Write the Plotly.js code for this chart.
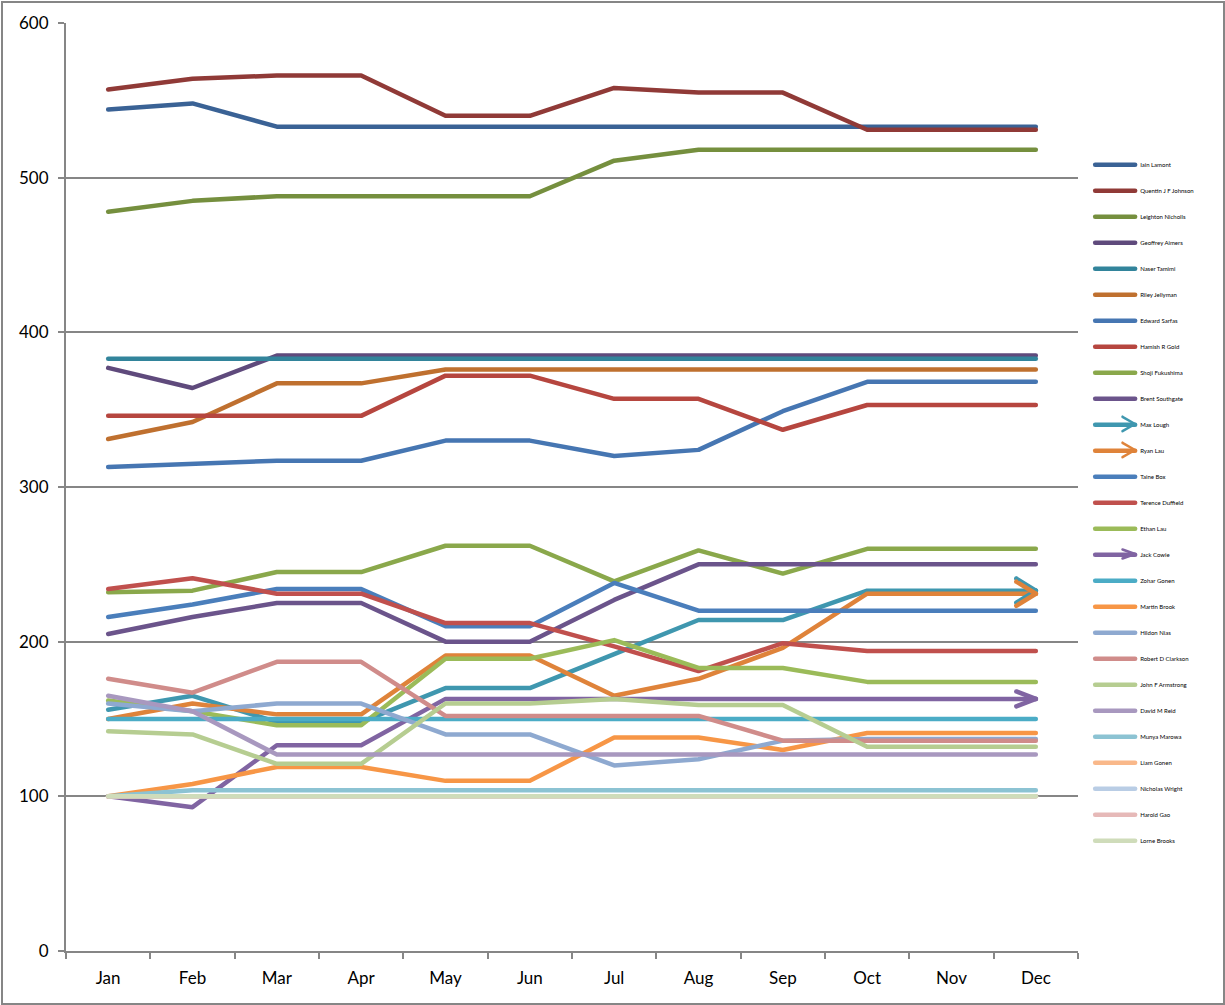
<!DOCTYPE html>
<html>
<head>
<meta charset="utf-8">
<script src="https://cdn.plot.ly/plotly-3.0.1.min.js"></script>
<style>
  html, body { margin: 0; padding: 0; background: #fff; }
  #wrap { position: relative; width: 1225px; height: 1005px; }
  #chart { width: 1225px; height: 1005px; }
  #frame { position: absolute; left: 1px; top: 1px; width: 1220px; height: 1000px; border: 2px solid #868686; pointer-events: none; }
  path.js-line { stroke-linecap: round !important; stroke-linejoin: round !important; }
  g.annotation path { stroke-linecap: round !important; }
</style>
</head>
<body>
<div id="wrap"><div id="chart"></div><div id="frame"></div></div>
<script>
const months = ["Jan","Feb","Mar","Apr","May","Jun","Jul","Aug","Sep","Oct","Nov","Dec"];
const yTicks = [0,100,200,300,400,500,600];

const iainLamont       = [544,548,533,533,533,533,533,533,533,533,533,533];
const quentinJohnson   = [557,564,566,566,540,540,558,555,555,531,531,531];
const leightonNicholls = [478,485,488,488,488,488,511,518,518,518,518,518];
const geoffreyAimers   = [377,364,385,385,385,385,385,385,385,385,385,385];
const naserTamimi      = [383,383,383,383,383,383,383,383,383,383,383,383];
const rileyJellyman    = [331,342,367,367,376,376,376,376,376,376,376,376];
const edwardSarfas     = [313,315,317,317,330,330,320,324,349,368,368,368];
const hamishGold       = [346,346,346,346,372,372,357,357,337,353,353,353];
const shojiFukushima   = [232,233,245,245,262,262,239,259,244,260,260,260];
const brentSouthgate   = [205,216,225,225,200,200,227,250,250,250,250,250];
const maxLough         = [156,165,148,148,170,170,192,214,214,233,233,233];
const ryanLau          = [150,160,153,153,191,191,165,176,196,231,231,231];
const taineBox         = [216,224,234,234,210,210,238,220,220,220,220,220];
const terenceDuffield  = [234,241,231,231,212,212,197,181,199,194,194,194];
const ethanLau         = [162,155,146,146,189,189,201,183,183,174,174,174];
const jackCowie        = [100,93,133,133,163,163,163,163,163,163,163,163];
const zoharGonen       = [150,150,150,150,150,150,150,150,150,150,150,150];
const martinBrook      = [100,108,119,119,110,110,138,138,130,141,141,141];
const hildonNias       = [160,155,160,160,140,140,120,124,136,137,137,137];
const robertClarkson   = [176,167,187,187,152,152,152,152,136,136,136,136];
const johnArmstrong    = [142,140,121,121,160,160,163,159,159,132,132,132];
const davidReid        = [165,155,127,127,127,127,127,127,127,127,127,127];
const munyaMarowa      = [100,104,104,104,104,104,104,104,104,104,104,104];
const liamGonen        = [100,100,100,100,100,100,100,100,100,100,100,100];
const nicholasWright   = [100,100,100,100,100,100,100,100,100,100,100,100];
const haroldGao        = [100,100,100,100,100,100,100,100,100,100,100,100];
const lorneBrooks      = [100,100,100,100,100,100,100,100,100,100,100,100];

const seriesNames = ["Iain Lamont","Quentin J F Johnson","Leighton Nicholls","Geoffrey Aimers","Naser Tamimi","Riley Jellyman","Edward Sarfas","Hamish R Gold","Shoji Fukushima","Brent Southgate","Max Lough","Ryan Lau","Taine Box","Terence Duffield","Ethan Lau","Jack Cowie","Zohar Gonen","Martin Brook","Hildon Nias","Robert D Clarkson","John F Armstrong","David M Reid","Munya Marowa","Liam Gonen","Nicholas Wright","Harold Gao","Lorne Brooks"];
const seriesValues = [iainLamont,quentinJohnson,leightonNicholls,geoffreyAimers,naserTamimi,rileyJellyman,edwardSarfas,hamishGold,shojiFukushima,brentSouthgate,maxLough,ryanLau,taineBox,terenceDuffield,ethanLau,jackCowie,zoharGonen,martinBrook,hildonNias,robertClarkson,johnArmstrong,davidReid,munyaMarowa,liamGonen,nicholasWright,haroldGao,lorneBrooks];
const seriesColors = ["#3A6295","#903A37","#758F3E","#5F4A7C","#32849B","#BF702F","#4676B2","#B6463F","#8AA84B","#6B548B","#3F97AF","#DF833A","#4A7EBB","#C0504D","#9BBB59","#8064A2","#4BACC6","#F79646","#8EA9D0","#D08C8A","#B6CD91","#A898BF","#8CC3D3","#F9B88A","#B9CDE5","#E6B9B8","#CFDCBA"];
// arrow-head styles: [arm length px, arm half-spread px] in plot and in legend
const arrowSeries = {"Max Lough": [21, 13, 14, 8], "Ryan Lau": [21, 13, 14, 8], "Jack Cowie": [21, 8, 14, 5]};

const traces = seriesNames.map((n, i) => ({
  type: "scatter", mode: "lines", name: n, legendgroup: n,
  x: months, y: seriesValues[i],
  line: { color: seriesColors[i], width: 4.5 },
  hoverinfo: "skip"
}));

// legend geometry (paper units) for the arrow glyphs in the legend
const plotW = 1225 - 66 - 147, plotH = 1005 - 23 - 54;
const legendTop = 164, legendStep = 26, legendTipX = 1135;

const annotations = [];
seriesNames.forEach((n, i) => {
  const a = arrowSeries[n];
  if (a === undefined) return;
  const v = seriesValues[i];
  [-1, 1].forEach(s => {
    annotations.push({
      x: months[months.length - 1], y: v[v.length - 1], xref: "x", yref: "y",
      ax: -a[0], ay: s * a[1], axref: "pixel", ayref: "pixel",
      text: "", showarrow: true, arrowhead: 0, standoff: 0, startstandoff: 0,
      arrowwidth: 4.5, arrowcolor: seriesColors[i]
    });
    annotations.push({
      x: (legendTipX - 66) / plotW, y: (951 - (legendTop + legendStep * i)) / plotH,
      xref: "paper", yref: "paper",
      ax: -a[2], ay: s * a[3], axref: "pixel", ayref: "pixel",
      text: "", showarrow: true, arrowhead: 0, standoff: 0, startstandoff: 0,
      arrowwidth: 2.5, arrowcolor: seriesColors[i]
    });
  });
});

const layout = {
  width: 1225, height: 1005,
  margin: { l: 66, r: 147, t: 23, b: 54 },
  paper_bgcolor: "#ffffff", plot_bgcolor: "#ffffff",
  font: { family: "Lato, 'Open Sans', sans-serif", color: "#000000", size: 17 },
  showlegend: true,
  legend: {
    x: 1.012, xanchor: "left", y: 0.863, yanchor: "top",
    font: { size: 6, family: "Lato, sans-serif", color: "#000" },
    traceorder: "grouped", tracegroupgap: 7, itemwidth: 40,
    bgcolor: "rgba(0,0,0,0)"
  },
  xaxis: {
    type: "category", categoryorder: "array", categoryarray: months,
    range: [-0.5, 11.5],
    showgrid: false, showline: true, linecolor: "#868686", linewidth: 2,
    ticks: "outside", tickson: "boundaries", ticklen: 6, tickwidth: 2, tickcolor: "#868686",
    ticklabelstandoff: 11,
    tickfont: { size: 17 }, zeroline: false, fixedrange: true
  },
  yaxis: {
    range: [0, 600], tickmode: "array", tickvals: yTicks, ticktext: yTicks.map(String),
    showgrid: true, gridcolor: "#868686", gridwidth: 2,
    showline: true, linecolor: "#868686", linewidth: 2,
    ticks: "outside", ticklen: 6, tickwidth: 2, tickcolor: "#868686",
    ticklabelstandoff: 6,
    tickfont: { size: 17 }, zeroline: false, fixedrange: true
  },
  annotations: annotations
};

Plotly.newPlot("chart", traces, layout, { staticPlot: true, displayModeBar: false });
</script>
</body>
</html>
